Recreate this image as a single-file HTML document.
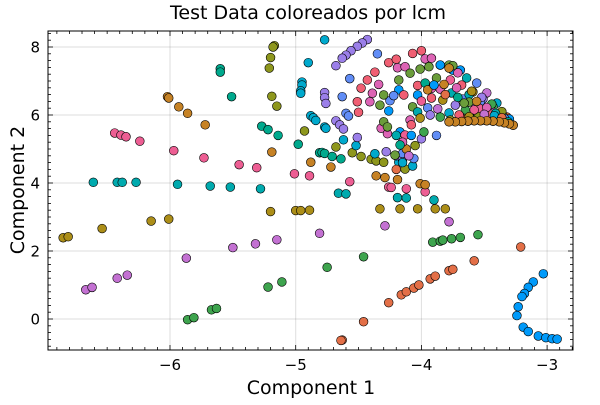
<!DOCTYPE html>
<html><head><meta charset="utf-8"><style>
body{margin:0;background:#fff;}
svg text{font-family:"DejaVu Sans","Liberation Sans",sans-serif;fill:#000;}
</style></head><body>
<svg id="chart" width="600" height="400" xmlns="http://www.w3.org/2000/svg">
<rect width="600" height="400" fill="#fff"/>
<g id="grid"></g>
<g id="points"></g>
<rect x="48" y="31" width="525" height="319" fill="none" stroke="#000" stroke-width="1"/>
<g id="ticks"></g>
<text x="308" y="19" text-anchor="middle" font-size="19">Test Data coloreados por lcm</text>
<text x="311" y="394" text-anchor="middle" font-size="19">Component 1</text>
<text x="24" y="190" text-anchor="middle" font-size="19" transform="rotate(-90 24 190)">Component 2</text>
</svg>
<script>
const xTicks = [-6, -5, -4, -3];
const yTicks = [0, 2, 4, 6, 8];
const palette = ["#009AFA","#E36F47","#3EA44E","#C371D2","#AC8E18","#00AAAE","#ED5E93","#C68225","#00A98D","#8E971D","#00A9CD","#9B7FE9","#618DF6","#F05F73","#DD64B5","#6B9D3B"];
const g1 = [[-3.03,1.33],[-3.11,1.09],[-3.15,0.93],[-3.18,0.75],[-3.20,0.66],[-3.23,0.36],[-3.24,0.10],[-3.19,-0.24],[-3.15,-0.37],[-3.07,-0.50],[-3.01,-0.55],[-2.96,-0.58],[-2.92,-0.59],[-3.69,7.32],[-3.75,7.32],[-4.18,6.74],[-4.26,6.12],[-4.17,5.50]];
const g2 = [[-4.63,-0.62],[-4.64,-0.63],[-4.46,-0.08],[-4.26,0.48],[-4.16,0.71],[-4.12,0.80],[-4.06,0.91],[-4.02,1.00],[-3.93,1.18],[-3.89,1.26],[-3.78,1.42],[-3.75,1.46],[-3.58,1.71],[-3.21,2.12]];
const g3 = [[-5.86,-0.02],[-5.81,0.04],[-5.67,0.27],[-5.63,0.31],[-5.22,0.94],[-5.11,1.09],[-4.75,1.52],[-4.46,1.83],[-3.91,2.26],[-3.85,2.29],[-3.83,2.32],[-3.76,2.36],[-3.69,2.40],[-3.55,2.48]];
const g4 = [[-6.67,0.86],[-6.62,0.93],[-6.42,1.20],[-6.34,1.29],[-5.87,1.79],[-5.50,2.10],[-5.32,2.21],[-5.15,2.33],[-4.81,2.52],[-4.29,2.74],[-3.78,2.86]];
const g5 = [[-6.85,2.39],[-6.81,2.42],[-6.54,2.66],[-6.15,2.88],[-6.01,2.94],[-5.20,3.16],[-5.00,3.19],[-4.96,3.19],[-4.89,3.20],[-4.33,3.24],[-4.17,3.24],[-4.03,3.24],[-3.89,3.24],[-3.81,3.24]];
const g6 = [[-6.61,4.02],[-6.42,4.02],[-6.38,4.02],[-6.27,4.02],[-5.94,3.96],[-5.68,3.91],[-5.52,3.88],[-5.28,3.83],[-4.66,3.70],[-4.60,3.68],[-4.19,3.57],[-4.12,3.56],[-3.90,3.50]];
const g7 = [[-6.44,5.47],[-6.39,5.41],[-6.35,5.36],[-6.24,5.23],[-5.97,4.95],[-5.73,4.74],[-5.45,4.54],[-5.31,4.45],[-5.01,4.27],[-4.89,4.21],[-4.57,4.04],[-4.26,3.88],[-4.24,3.87],[-4.12,3.83],[-3.97,3.74]];
const g8 = [[-6.02,6.54],[-6.01,6.50],[-5.93,6.24],[-5.86,6.05],[-5.72,5.71],[-5.19,4.91],[-4.88,4.61],[-4.72,4.47],[-4.36,4.21],[-4.29,4.16],[-4.19,4.10],[-4.01,3.98],[-3.97,3.95],[-3.27,5.70],[-3.30,5.74],[-3.34,5.77],[-3.38,5.80],[-3.43,5.82],[-3.48,5.83],[-3.53,5.83],[-3.58,5.83],[-3.63,5.82],[-3.68,5.81],[-3.73,5.80],[-3.78,5.80]];
const g9 = [[-5.60,7.36],[-5.60,7.26],[-5.51,6.54],[-5.27,5.67],[-5.22,5.57],[-5.14,5.40],[-4.98,5.14],[-4.81,4.89],[-4.79,4.90],[-4.77,4.87],[-4.71,4.78],[-4.64,4.71]];
const g10 = [[-5.17,8.04],[-5.18,8.00],[-5.20,7.69],[-5.21,7.38],[-5.19,6.55],[-5.15,6.26],[-4.93,5.53],[-4.68,5.06],[-4.55,4.89],[-4.48,4.78],[-4.40,4.70],[-4.36,4.65],[-4.30,4.61],[-4.13,4.41]];
const g11 = [[-4.90,7.54],[-4.95,6.97],[-4.95,6.88],[-4.96,6.71],[-4.96,6.64],[-4.88,5.98],[-4.86,5.92],[-4.84,5.84],[-4.77,8.21],[-4.77,5.65],[-4.76,5.61],[-4.62,5.27],[-4.52,5.10],[-4.37,4.86],[-4.18,4.61],[-4.07,4.50]];
const g12 = [[-4.43,8.22],[-4.47,8.12],[-4.51,8.02],[-4.56,7.89],[-4.60,7.76],[-4.63,7.67],[-4.68,7.45],[-4.77,6.66],[-4.77,6.51],[-4.76,6.34],[-4.68,5.83],[-4.65,5.71],[-4.62,5.59],[-4.51,5.34],[-4.28,4.92],[-4.20,4.80],[-4.15,4.69]];
const g13 = [[-4.35,7.80],[-4.57,7.07],[-4.63,6.54],[-4.60,6.05],[-4.58,5.97],[-4.25,6.42],[-4.22,6.57],[-4.15,4.87],[-4.06,4.72]];
const g14 = [[-4.26,7.54],[-4.20,7.64],[-4.07,7.81],[-4.00,7.89],[-4.43,7.03],[-4.37,7.26],[-4.48,6.79],[-4.51,6.39],[-4.50,6.08],[-4.03,6.87],[-4.14,6.59]];
const g15 = [[-4.34,6.90],[-4.39,6.64],[-4.41,6.39],[-4.32,5.61],[-4.27,5.45],[-4.19,7.39],[-4.13,7.42],[-3.97,7.65],[-3.92,7.67],[-3.92,6.78]];
const g16 = [[-4.30,6.59],[-4.33,6.29],[-4.18,7.03],[-4.09,7.23],[-4.01,7.35],[-3.94,7.42],[-3.85,7.47],[-3.78,7.47],[-3.75,7.45],[-4.30,5.80],[-4.27,5.65]];
const clusterX = [-3.85,-3.78,-3.71,-3.64,-3.56,-3.48,-3.40,-3.32,
 -3.97,-3.88,-3.77,-3.68,-3.59,-3.51,-3.43,-3.35,
 -4.03,-3.95,-3.85,-3.76,-3.67,-3.57,-3.49,-3.40,-3.33,
 -4.07,-4.00,-3.92,-3.83,-3.73,-3.65,-3.55,-3.45,-3.37,
 -4.09,-4.03,-3.95,-3.87,-3.78,-3.69,-3.60,-3.50,
 -4.13,-4.08,-4.01,-3.93,-3.85,-3.77,
 -3.90,-3.82,-3.72,-3.62,-3.53,-3.45,-3.38,-3.81,-3.71,-3.62,-3.54,-3.46,
 -3.60,-3.52,-3.44,-3.36,-3.30,-3.56,-3.48,-3.41,-3.34,-3.50,-3.42,-3.36,-3.31,-3.66,-3.58,-3.70,-3.62,
 -4.00,-3.98,-4.05,-4.08,-4.12,-4.15,-4.20,-3.88,-4.10,-4.15,-4.20,-4.17,-4.21];
const clusterY = [7.47,7.38,7.24,7.09,6.94,6.65,6.35,5.94,
 6.94,7.09,7.03,6.88,6.68,6.47,6.24,5.97,
 6.59,6.74,6.76,6.65,6.47,6.29,6.12,5.94,5.82,
 6.24,6.41,6.50,6.44,6.29,6.15,6.03,5.91,5.82,
 5.85,6.09,6.21,6.18,6.06,5.94,5.88,5.85,
 5.41,5.71,5.91,6.00,5.94,5.85,
 6.88,6.90,6.80,6.60,6.40,6.18,6.00,6.60,6.52,6.38,6.20,6.05,
 6.70,6.52,6.32,6.10,5.88,6.40,6.22,6.05,5.90,6.02,5.98,5.92,5.80,6.35,6.15,6.00,5.95,
 5.30,5.50,5.10,5.40,5.00,5.20,5.40,5.40,4.80,4.60,4.40,5.12,4.82];

const NS = "http://www.w3.org/2000/svg";
const L = 48, R = 573, T = 31, B = 350;
function xs(v){ return 170 + 125.7 * (v + 6); }
function ys(v){ return 319 - 34 * v; }

const grid = document.getElementById('grid');
const ticks = document.getElementById('ticks');
function line(parent, x1, y1, x2, y2, stroke, w){
  const l = document.createElementNS(NS, 'line');
  l.setAttribute('x1', x1); l.setAttribute('y1', y1);
  l.setAttribute('x2', x2); l.setAttribute('y2', y2);
  l.setAttribute('stroke', stroke); l.setAttribute('stroke-width', w);
  parent.appendChild(l);
  return l;
}
xTicks.forEach(t => {
  const g = line(grid, xs(t), T, xs(t), B, 'rgba(0,0,0,0.13)', 1);
  
  
  const tx = document.createElementNS(NS, 'text');
  tx.setAttribute('x', xs(t)); tx.setAttribute('y', 370);
  tx.setAttribute('text-anchor', 'middle'); tx.setAttribute('font-size', '15');
  tx.textContent = '\u2212' + Math.abs(t);
  
  
  ticks.appendChild(tx);
});
yTicks.forEach(t => {
  const g = line(grid, L, ys(t), R, ys(t), 'rgba(0,0,0,0.13)', 1);
  
  
  const tx = document.createElementNS(NS, 'text');
  tx.setAttribute('x', 40); tx.setAttribute('y', ys(t) + 5.5);
  tx.setAttribute('text-anchor', 'end'); tx.setAttribute('font-size', '15');
  tx.textContent = String(t);
  
  
  ticks.appendChild(tx);
});
for (let i = -70; i <= -27; i++) {
  const v = i / 10, x = xs(v);
  if (x < L || x > R) continue;
  const len = (i % 10 === 0) ? 5 : 3;
  line(ticks, x, B, x, B - len, '#000', 0.8);
  line(ticks, x, T, x, T + len, '#000', 0.8);
}
for (let i = -5; i <= 42; i++) {
  const v = i / 5, y = ys(v);
  if (y < T || y > B) continue;
  const len = (i % 10 === 0) ? 5 : 3;
  line(ticks, L, y, L + len, y, '#000', 0.8);
  line(ticks, R, y, R - len, y, '#000', 0.8);
}

const pts = document.getElementById('points');
function dot(x, y, color){
  const c = document.createElementNS(NS, 'circle');
  c.setAttribute('cx', xs(x)); c.setAttribute('cy', ys(y));
  c.setAttribute('r', 4.4); c.setAttribute('fill', color);
  c.setAttribute('stroke', '#000'); c.setAttribute('stroke-width', 0.6);
  
  
  pts.appendChild(c);
}
const groups = [g1,g2,g3,g4,g5,g6,g7,g8,g9,g10,g11,g12,g13,g14,g15,g16];
groups.forEach((g, gi) => g.forEach(p => dot(p[0], p[1], palette[gi])));
clusterX.forEach((x, i) => dot(x, clusterY[i], palette[(i * 7) % 16]));
g8.slice(13).forEach(p => dot(p[0], p[1], palette[7]));
</script>
</body></html>
